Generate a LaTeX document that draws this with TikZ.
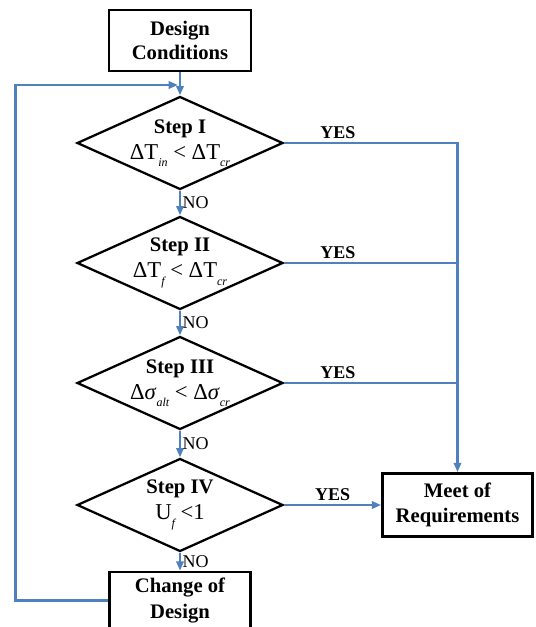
\documentclass[tikz,border=0pt]{standalone}
\usepackage{fontspec}
\setmainfont{Liberation Serif}
\usetikzlibrary{shapes.geometric,arrows.meta}
\definecolor{flowblue}{RGB}{79,129,189}
\newcommand{\sbs}[1]{\raisebox{-0.7ex}{\fontsize{9}{9}\selectfont\itshape #1}}

\begin{document}
\begin{tikzpicture}[x=0.75pt,y=-0.75pt,
  box/.style={draw, line width=2pt, minimum width=106.5pt, minimum height=45.75pt,
    align=center, inner sep=0pt, font=\fontsize{15.5}{17.5}\selectfont\bfseries},
  decision/.style={diamond, draw, line width=1.7pt, aspect=2.2, minimum width=154.5pt,
    minimum height=69.75pt, inner xsep=-12pt, inner ysep=-8pt, align=center,
    font=\fontsize{15.5}{19.5}\selectfont},
  flow/.style={draw=flowblue, line width=2pt, -{Triangle[length=7pt,width=5.5pt]}},
  link/.style={draw=flowblue, line width=2pt},
  yes/.style={above, font=\fontsize{13.5}{15}\selectfont\bfseries, inner sep=2pt},
  no/.style={right, font=\fontsize{13.5}{15}\selectfont, inner sep=1pt}]
\useasboundingbox (0,0) rectangle (535,627);

\node[box] (dc) at (180,40.5) {Design\\Conditions};
\node[decision] (s1) at (180,143) {\textbf{Step I}\\{\fontsize{17}{19}\selectfont ΔT\sbs{in} < ΔT\sbs{cr}}};
\node[decision] (s2) at (180,263) {\textbf{Step II}\\{\fontsize{17}{19}\selectfont ΔT\sbs{f} < ΔT\sbs{cr}}};
\node[decision] (s3) at (180,383) {\textbf{Step III}\\{\fontsize{17}{19}\selectfont Δ\textit{σ}\sbs{alt} < Δ\textit{σ}\sbs{cr}}};
\node[decision] (s4) at (180,505) {\textbf{Step IV}\\{\fontsize{17}{19}\selectfont U\sbs{f} <1}};
\node[box, minimum width=105.75pt, minimum height=42.75pt, font=\fontsize{15.5}{20}\selectfont\bfseries]
  (cd) at (180,600.5) {Change of\\Design};
\node[box, minimum width=112.5pt, minimum height=47.25pt, font=\fontsize{15.5}{19}\selectfont\bfseries]
  (mr) at (457.5,505) {Meet of\\Requirements};
\coordinate (fb) at (178,85);

% NO branches
\draw[flow] (dc) -- (s1);
\draw[flow] (s1) -- node[no]{NO} (s2);
\draw[flow] (s2) -- node[no]{NO} (s3);
\draw[flow] (s3) -- node[no]{NO} (s4);
\draw[flow] (s4) -- node[no]{NO} (cd);

% YES branches
\draw[flow] (s1.east) -- node[yes, pos=0.31]{YES} (s1.east -| mr.north) -- (mr.north);
\draw[link] (s2.east) -- node[yes, pos=0.31]{YES} (s2.east -| mr.north);
\draw[link] (s3.east) -- node[yes, pos=0.31]{YES} (s3.east -| mr.north);
\draw[flow] (s4.east) -- node[yes]{YES} (mr.west);

% back to step I
\draw[flow] (cd.west) -- ++(-93,0) |- (fb);
\end{tikzpicture}
\end{document}
